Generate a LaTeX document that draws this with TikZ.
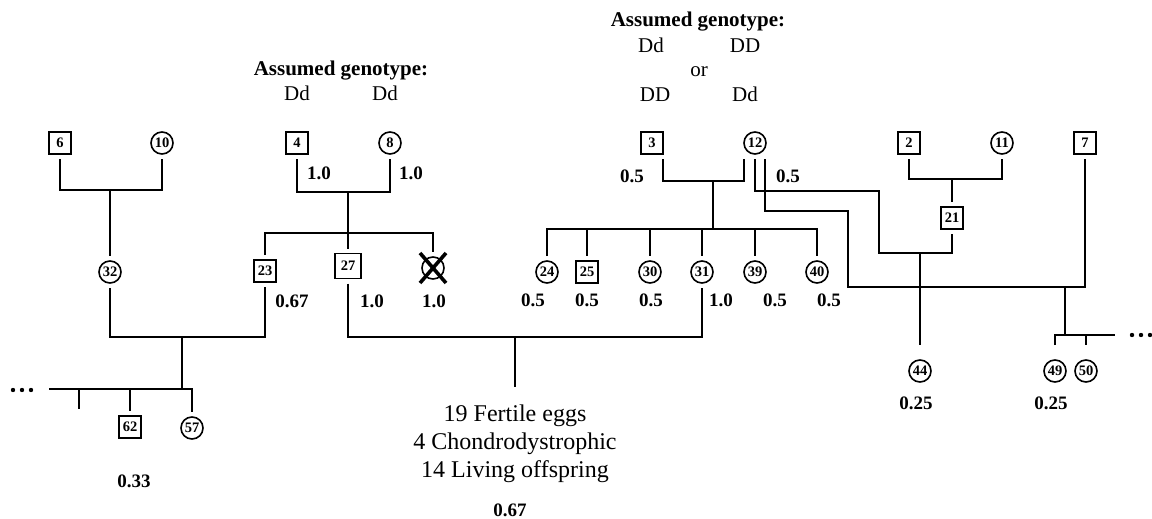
\documentclass[tikz,border=0pt]{standalone}
\usepackage{fontspec}
\setmainfont{Liberation Serif}
\newcommand\idfont{\fontsize{14.5}{14.5}\selectfont\bfseries}
\newcommand\probfont{\fontsize{19}{19}\selectfont\bfseries}
\newcommand\genofont{\fontsize{21}{21}\selectfont}
\newcommand\headfont{\fontsize{21}{21}\selectfont\bfseries}
\newcommand\notefont{\fontsize{24}{28}\selectfont}
\begin{document}
\begin{tikzpicture}[x=1pt,y=-1pt,
  male/.style={draw, rectangle, minimum size=22pt, inner sep=0pt, line width=1.6pt, outer sep=5pt, font=\idfont},
  female/.style={draw, circle, minimum size=22pt, inner sep=0pt, line width=1.6pt, outer sep=5pt, font=\idfont},
  prob/.style={font=\probfont, inner sep=0pt},
  geno/.style={font=\genofont, inner sep=0pt, anchor=base},
  head/.style={font=\headfont, inner sep=0pt, anchor=base},
  link/.style={line width=1.6pt},
  dot/.style={fill=black}]
\fill[white] (0,0) rectangle (1152,519);
\useasboundingbox (0,0) rectangle (1152,519);

% genotype headings
\node[head] (hL) at (341,76) {Assumed genotype:};
\node[geno] (gL1) at (297,100) {Dd};
\node[geno] (gL2) at (385,100) {Dd};
\node[head] (hR) at (698,27) {Assumed genotype:};
\node[geno] (gR1) at (651,53) {Dd};
\node[geno] (gR2) at (745,53) {DD};
\node[geno] (gR3) at (699,77) {or};
\node[geno] (gR4) at (655,102) {DD};
\node[geno] (gR5) at (745,102) {Dd};

% founders
\node[male]   (n6)  at (60,143)   {6};
\node[female] (n10) at (162,143)  {10};
\node[male]   (n4)  at (297,143)  {4};
\node[female] (n8)  at (390,143)  {8};
\node[male]   (n3)  at (652,143)  {3};
\node[female] (n12) at (755,143)  {12};
\node[male]   (n2)  at (909,143)  {2};
\node[female] (n11) at (1002,143) {11};
\node[male]   (n7)  at (1085,143) {7};

% second generation
\node[female] (n32) at (110,272) {32};
\node[male]   (n23) at (265,271) {23};
\node[male, minimum width=26pt, minimum height=25pt] (n27) at (348,266) {27};
\node[female] (nX)  at (433,268) {};
\node[female] (n24) at (547,272) {24};
\node[male]   (n25) at (587,272) {25};
\node[female] (n30) at (650,272) {30};
\node[female] (n31) at (702,272) {31};
\node[female] (n39) at (755,272) {39};
\node[female] (n40) at (817,272) {40};
\node[male]   (n21) at (952,218) {21};

% third generation
\node[female] (n44) at (920,371)  {44};
\node[female] (n49) at (1055,371) {49};
\node[female] (n50) at (1086,371) {50};
\node[male]   (n62) at (130,427)  {62};
\node[female] (n57) at (192,428)  {57};

% deceased mark
\draw[line width=3.6pt] ([shift={(-13,-15)}]nX.center) -- ([shift={(13,15)}]nX.center);
\draw[line width=3.6pt] ([shift={(13,-15)}]nX.center) -- ([shift={(-13,15)}]nX.center);

% probabilities
\node[prob] (p4)  at (319,173) {1.0};
\node[prob] (p8)  at (411,173) {1.0};
\node[prob] (p3)  at (632,176) {0.5};
\node[prob] (p12) at (788,176) {0.5};
\node[prob] (p23) at (292,301) {0.67};
\node[prob] (p27) at (372,301) {1.0};
\node[prob] (pX)  at (434,301) {1.0};
\node[prob] (p24) at (533,300) {0.5};
\node[prob] (p25) at (587,300) {0.5};
\node[prob] (p30) at (651,300) {0.5};
\node[prob] (p31) at (721,300) {1.0};
\node[prob] (p39) at (775,300) {0.5};
\node[prob] (p40) at (829,300) {0.5};
\node[prob] (p44) at (916,403) {0.25};
\node[prob] (p49) at (1051,403) {0.25};
\node[prob] (p62) at (134,481) {0.33};

% brood of 27 x 31
\node[font=\notefont, align=center, inner sep=0pt] (brood) at (515,444)
  {19 Fertile eggs\\4 Chondrodystrophic\\14 Living offspring};
\node[prob] (pB) at (510,510) {0.67};

% 6 x 10
\coordinate (m610) at (110,190);
\draw[link] (n6) |- (m610) -| (n10);
\draw[link] (m610) -- (n32);

% 4 x 8
\coordinate (m48) at (348,192);
\coordinate (s48) at (348,233);
\draw[link] (n4) |- (m48) -| (n8);
\draw[link] (m48) -- (s48) -- (n27);
\draw[link] (n23) |- (s48) -| (nX);

% 32 x 23
\coordinate (m3223) at (182,337);
\coordinate (s3223) at (182,389);
\coordinate (sL) at (49,389);
\coordinate (c79) at (79,409);
\draw[link] (n32) |- (m3223) -| (n23);
\draw[link] (m3223) -- (s3223);
\draw[link] (sL) -- (s3223) -| (n57);
\draw[link] (c79 |- sL) -- (c79);
\draw[link] (n62 |- sL) -- (n62);

% 27 x 31
\coordinate (m2731) at (515,337);
\draw[link] (n27) |- (m2731) -| (n31);
\draw[link] (m2731) -- ([yshift=18pt]brood.north);

% 3 x 12
\coordinate (m312) at (713,181);
\coordinate (s312) at (713,229);
\draw[link] ([xshift=11pt]n3.south) |- (m312) -| ([xshift=-11pt]n12.south);
\draw[link] (m312) -- (s312);
\draw[link] (n24) |- (s312) -| (n40);
\foreach \c in {n25,n30,n31,n39} \draw[link] (\c |- s312) -- (\c);

% 2 x 11
\coordinate (m211) at (952,179);
\draw[link] (n2) |- (m211) -| (n11);
\draw[link] (m211) -- (n21);

% 12 x 21
\coordinate (a1) at (879,191);
\coordinate (m1221) at (920,253);
\draw[link] (n12) |- (a1) |- (m1221) -| (n21);
\draw[link] (m1221) -- ([yshift=10pt]n44.north);

% 12 x 7
\coordinate (b1) at (848,211);
\coordinate (m127) at (1065,287);
\coordinate (s127) at (1065,335);
\coordinate (sR) at (1115,335);
\draw[link] ([xshift=10pt]n12.south) |- (b1) |- (m127) -| (n7);
\draw[link] (m127) -- (s127);
\draw[link] ([yshift=10pt]n49.north) |- (sR);
\draw[link] (n50 |- sR) -- ([yshift=10pt]n50.north);

% continuation dots
\foreach \x in {13,22,31} \fill[dot] (\x,390) circle (2.2pt);
\foreach \x in {1132,1141,1150} \fill[dot] (\x,335) circle (2.2pt);
\end{tikzpicture}
\end{document}
